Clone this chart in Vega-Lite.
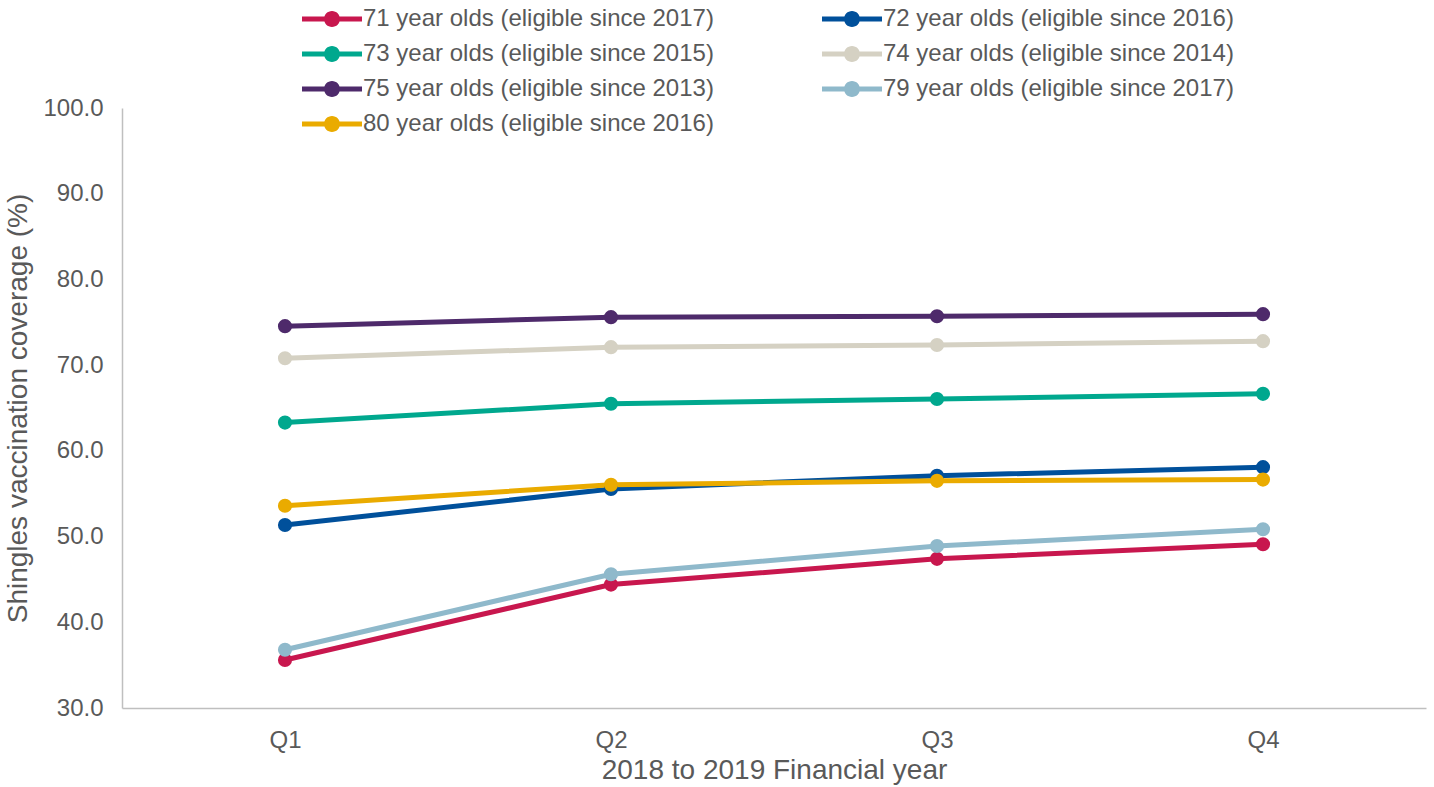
{
  "$schema": "https://vega.github.io/schema/vega-lite/v6.json",
  "autosize": "none",
  "width": 1304,
  "height": 600,
  "padding": {"left": 122, "top": 108, "right": 8, "bottom": 79},
  "background": "white",
  "config": {
    "view": {"stroke": null},
    "font": "Liberation Sans",
    "axis": {"labelColor": "#595959", "titleColor": "#595959", "labelFont": "Liberation Sans", "titleFont": "Liberation Sans", "titleFontWeight": "normal", "domainColor": "#BFBFBF", "domainWidth": 1.5, "ticks": false, "grid": false}
  },
  "data": {"values": [
    {"q": "Q1", "s": "71 year olds (eligible since 2017)", "v": 35.6},
    {"q": "Q2", "s": "71 year olds (eligible since 2017)", "v": 44.4},
    {"q": "Q3", "s": "71 year olds (eligible since 2017)", "v": 47.4},
    {"q": "Q4", "s": "71 year olds (eligible since 2017)", "v": 49.1},
    {"q": "Q1", "s": "72 year olds (eligible since 2016)", "v": 51.35},
    {"q": "Q2", "s": "72 year olds (eligible since 2016)", "v": 55.55},
    {"q": "Q3", "s": "72 year olds (eligible since 2016)", "v": 57.1},
    {"q": "Q4", "s": "72 year olds (eligible since 2016)", "v": 58.1},
    {"q": "Q1", "s": "73 year olds (eligible since 2015)", "v": 63.3},
    {"q": "Q2", "s": "73 year olds (eligible since 2015)", "v": 65.5},
    {"q": "Q3", "s": "73 year olds (eligible since 2015)", "v": 66.05},
    {"q": "Q4", "s": "73 year olds (eligible since 2015)", "v": 66.65},
    {"q": "Q1", "s": "74 year olds (eligible since 2014)", "v": 70.8},
    {"q": "Q2", "s": "74 year olds (eligible since 2014)", "v": 72.1},
    {"q": "Q3", "s": "74 year olds (eligible since 2014)", "v": 72.35},
    {"q": "Q4", "s": "74 year olds (eligible since 2014)", "v": 72.8},
    {"q": "Q1", "s": "75 year olds (eligible since 2013)", "v": 74.55},
    {"q": "Q2", "s": "75 year olds (eligible since 2013)", "v": 75.6},
    {"q": "Q3", "s": "75 year olds (eligible since 2013)", "v": 75.7},
    {"q": "Q4", "s": "75 year olds (eligible since 2013)", "v": 75.95},
    {"q": "Q1", "s": "79 year olds (eligible since 2017)", "v": 36.8},
    {"q": "Q2", "s": "79 year olds (eligible since 2017)", "v": 45.6},
    {"q": "Q3", "s": "79 year olds (eligible since 2017)", "v": 48.9},
    {"q": "Q4", "s": "79 year olds (eligible since 2017)", "v": 50.85},
    {"q": "Q1", "s": "80 year olds (eligible since 2016)", "v": 53.6},
    {"q": "Q2", "s": "80 year olds (eligible since 2016)", "v": 56.05},
    {"q": "Q3", "s": "80 year olds (eligible since 2016)", "v": 56.5},
    {"q": "Q4", "s": "80 year olds (eligible since 2016)", "v": 56.65}
  ]},
  "encoding": {
    "x": {"field": "q", "type": "ordinal", "scale": {"type": "point", "padding": 0.5},
      "axis": {"title": "2018 to 2019 Financial year", "labelAngle": 0, "labelFontSize": 24, "titleFontSize": 28, "labelPadding": 20, "titlePadding": 4}},
    "y": {"field": "v", "type": "quantitative", "scale": {"domain": [30, 100], "nice": false, "zero": false},
      "axis": {"title": "Shingles vaccination coverage (%)", "values": [30, 40, 50, 60, 70, 80, 90, 100], "format": ".1f", "labelFontSize": 24, "titleFontSize": 28, "labelPadding": 19, "titlePadding": 10}},
    "color": {"field": "s", "type": "nominal",
      "scale": {"range": ["#C8174E", "#00509B", "#00A88E", "#D5D1C3", "#4E2A6B", "#8FB9CB", "#EAAB00"]},
      "legend": {"title": null, "orient": "none", "direction": "horizontal", "legendX": 178, "legendY": -101, "columns": 2, "columnPadding": 106, "rowPadding": 11,
        "labelFontSize": 24, "labelColor": "#595959", "labelFont": "Liberation Sans", "labelOffset": 39, "labelLimit": 600,
        "symbolType": "M-1,-0.25 L5,-0.25 L5,0.25 L-1,0.25 Z M1.2,0 A0.8,0.8 0 1,1 2.8,0 A0.8,0.8 0 1,1 1.2,0 Z",
        "symbolSize": 400, "symbolOpacity": 1, "symbolStrokeWidth": 0}}
  },
  "layer": [
    {"mark": {"type": "line", "strokeWidth": 5}},
    {"mark": {"type": "point", "filled": true, "size": 200, "opacity": 1}}
  ]
}
